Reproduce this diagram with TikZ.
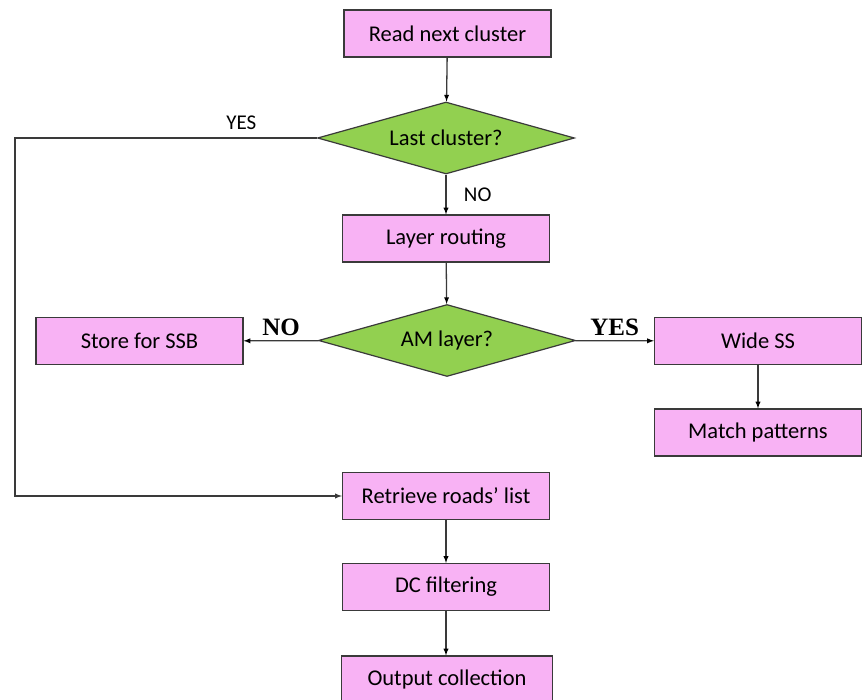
\documentclass[tikz,border=0pt]{standalone}
\usepackage{fontspec}
\setmainfont{Carlito}
\newfontfamily\labelserif{Liberation Serif}
\usetikzlibrary{positioning}
\usetikzlibrary{shapes.geometric}
\usetikzlibrary{arrows}
\definecolor{boxpink}{HTML}{F8B2F4}
\definecolor{testgreen}{HTML}{92D050}
\definecolor{edgegray}{HTML}{3A3A3A}

\tikzset{
  stepbox/.style={draw=edgegray,fill=boxpink,line width=1.2pt,minimum width=207pt,minimum height=47pt,
                  font=\fontsize{22.5}{26}\selectfont},
  test/.style={draw=edgegray,fill=testgreen,line width=1.2pt,shape=diamond,aspect=3.57,inner sep=0pt,
               minimum width=257pt,minimum height=72pt,font=\fontsize{22.5}{26}\selectfont},
  answer/.style={font=\fontsize{21}{24}\selectfont},
  bigAnswer/.style={font=\labelserif\bfseries\fontsize{25}{28}\selectfont}
}

\begin{document}
\begin{tikzpicture}[x=1pt,y=-1pt]
\useasboundingbox[fill=white] (0,0) rectangle (868,700);
\clip (0,0) rectangle (868,700);
  \node[stepbox] (read) at (447.5,33.5) {Read next cluster};
  \node[test] (last) at (446,138) {Last cluster?};
  \node[stepbox] (route) at (446,238.5) {Layer routing};
  \node[test] (am) at (447,340.5) {AM layer?};
  \node[stepbox] (ssb) at (139.5,341) {Store for SSB};
  \node[stepbox] (wide) at (758,341) {Wide SS};
  \node[stepbox] (match) at (758,432.5) {Match patterns};
  \node[stepbox] (roads) at (446,496) {Retrieve roads' list};
  \node[stepbox] (dc) at (446,587) {DC filtering};
  \node[stepbox,minimum width=211pt] (out) at (447,679.5) {Output collection};
  \coordinate (loop) at (15,138);

  \path[-latex,draw=edgegray,line width=1.3pt] (read) edge (last)
        (last) edge node[answer,right=14pt] {NO} (route)
        (route) edge (am)
        (am) edge node[bigAnswer,above=1pt] {NO} (ssb)
        (am) edge node[bigAnswer,above=1pt] {YES} (wide)
        (wide) edge (match)
        (roads) edge (dc)
        (dc) edge (dc |- out.north);
  \draw[-latex,draw=edgegray,line width=1.3pt] (last.west) -- node[answer,pos=0.25,above=4pt] {YES} (loop) |- (roads.west);
\end{tikzpicture}
\end{document}
